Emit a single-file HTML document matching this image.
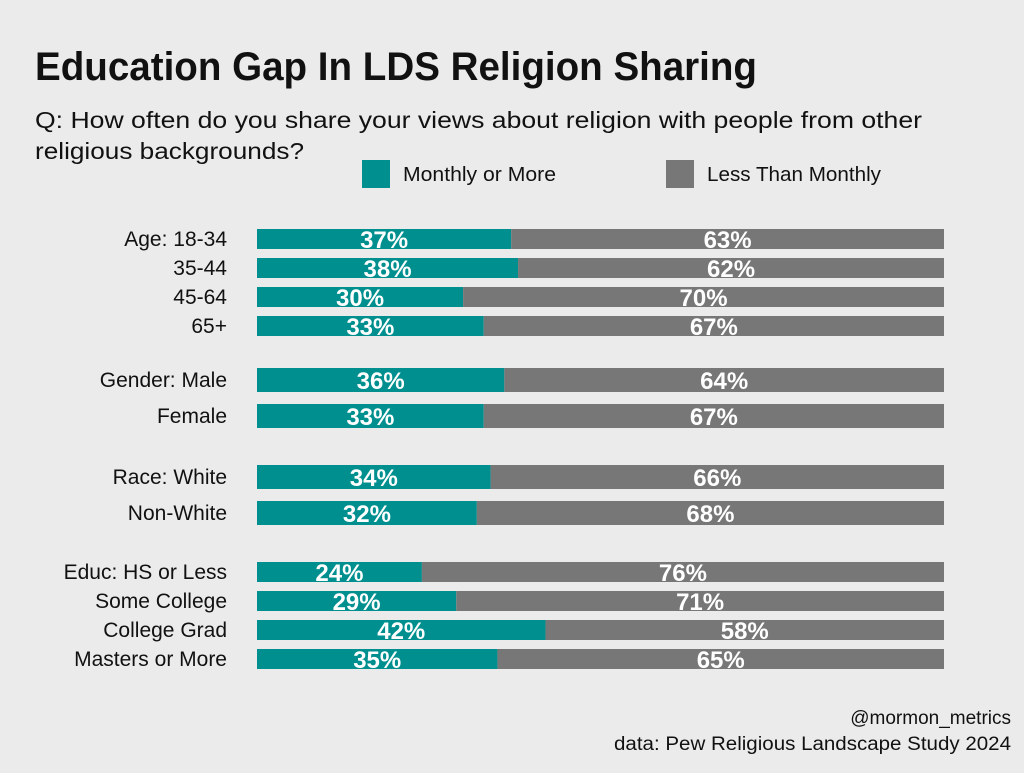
<!DOCTYPE html>
<html><head><meta charset="utf-8">
<style>
html,body{margin:0;padding:0;background:#ebebeb;}
body{width:1024px;height:768px;overflow:hidden;font-family:"Liberation Sans",sans-serif;}
</style></head>
<body>
<svg id="chart" width="1024" height="768" xmlns="http://www.w3.org/2000/svg">
<rect x="0" y="0" width="1024" height="768" fill="#ebebeb"/>
<text x="35" y="80" font-family="Liberation Sans Narrow, Liberation Sans, sans-serif" font-weight="bold" font-size="40" fill="#111" textLength="722" lengthAdjust="spacingAndGlyphs">Education Gap In LDS Religion Sharing</text>
<text x="35" y="128" font-size="23" fill="#111" textLength="887" lengthAdjust="spacingAndGlyphs">Q: How often do you share your views about religion with people from other</text>
<text x="35" y="159" font-size="23" fill="#111" textLength="269" lengthAdjust="spacingAndGlyphs">religious backgrounds?</text>
<g>
<rect x="362" y="160" width="28" height="28" fill="#008f8f"/>
<text x="403" y="181" font-size="20" fill="#111" textLength="153" lengthAdjust="spacingAndGlyphs">Monthly or More</text>
<rect x="666" y="160" width="28" height="28" fill="#777777"/>
<text x="707" y="181" font-size="20" fill="#111" textLength="174" lengthAdjust="spacingAndGlyphs">Less Than Monthly</text>
</g>
<g id="bars"></g>
<text x="1011" y="724" font-size="19" fill="#111" text-anchor="end">@mormon_metrics</text>
<text x="1011" y="750" font-size="19" fill="#111" text-anchor="end" textLength="397" lengthAdjust="spacingAndGlyphs">data: Pew Religious Landscape Study 2024</text>
</svg>
<script>
const categories = ["Age: 18-34","35-44","45-64","65+","Gender: Male","Female","Race: White","Non-White","Educ: HS or Less","Some College","College Grad","Masters or More"];
const groups = [0,0,0,0,1,1,2,2,3,3,3,3];
const monthly = [37,38,30,33,36,33,34,32,24,29,42,35];
const lessMonthly = [63,62,70,67,64,67,66,68,76,71,58,65];

const X0 = 257, W = 687;
const xScale = v => X0 + v / 100 * W;
const groupLayout = [[229,29,20],[368,36,24],[465,36,24],[562,29,20]];
const ns = "http://www.w3.org/2000/svg";
const g = document.getElementById("bars");
const seen = {};
categories.forEach((cat, i) => {
  const gi = groups[i];
  seen[gi] = (seen[gi] || 0);
  const [y0, step, h] = groupLayout[gi];
  const y = y0 + seen[gi] * step;
  seen[gi]++;
  const m = monthly[i], l = lessMonthly[i];
  const xm = xScale(m);
  const r1 = document.createElementNS(ns, "rect");
  r1.setAttribute("x", X0); r1.setAttribute("y", y); r1.setAttribute("width", xm - X0); r1.setAttribute("height", h); r1.setAttribute("fill", "#008f8f");
  
  
  g.appendChild(r1);
  const r2 = document.createElementNS(ns, "rect");
  r2.setAttribute("x", xm); r2.setAttribute("y", y); r2.setAttribute("width", xScale(m + l) - xm); r2.setAttribute("height", h); r2.setAttribute("fill", "#777777");
  
  
  g.appendChild(r2);
  const cy = y + h / 2;
  const lab = document.createElementNS(ns, "text");
  lab.setAttribute("x", 227); lab.setAttribute("y", cy + 7); lab.setAttribute("text-anchor", "end"); lab.setAttribute("font-size", "21"); lab.setAttribute("fill", "#111");
  lab.textContent = cat;
  
  
  g.appendChild(lab);
  const t1 = document.createElementNS(ns, "text");
  t1.setAttribute("x", (X0 + xm) / 2); t1.setAttribute("y", cy + 9); t1.setAttribute("text-anchor", "middle"); t1.setAttribute("font-size", "24"); t1.setAttribute("font-weight", "bold"); t1.setAttribute("fill", "#fff");
  t1.textContent = m + "%";
  
  
  g.appendChild(t1);
  const t2 = document.createElementNS(ns, "text");
  t2.setAttribute("x", (xm + xScale(m + l)) / 2); t2.setAttribute("y", cy + 9); t2.setAttribute("text-anchor", "middle"); t2.setAttribute("font-size", "24"); t2.setAttribute("font-weight", "bold"); t2.setAttribute("fill", "#fff");
  t2.textContent = l + "%";
  
  
  g.appendChild(t2);
});
</script>
</body></html>
